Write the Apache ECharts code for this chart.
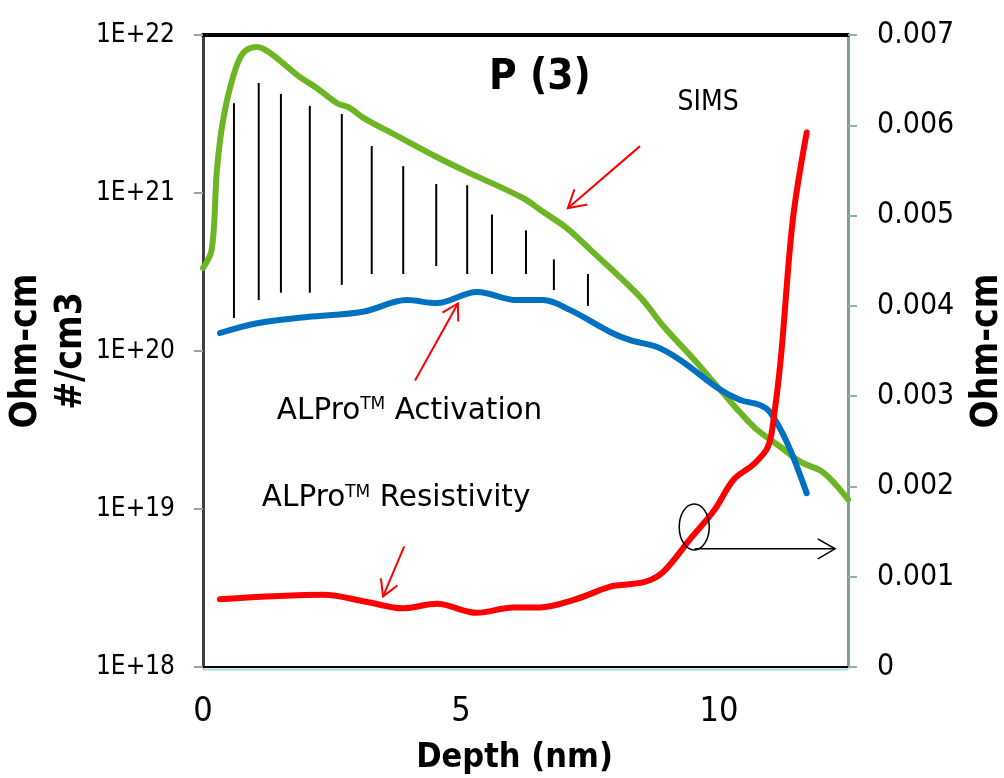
<!DOCTYPE html>
<html><head><meta charset="utf-8">
<script src="https://cdn.jsdelivr.net/npm/echarts@6/dist/echarts.min.js"></script>
<style>html,body{margin:0;padding:0;background:#fff}#c{width:1004px;height:778px}</style>
</head><body><div id="c"></div>
<script>
const FONT = "'DejaVu Sans Condensed','DejaVu Sans',sans-serif";
const FONT_WIDE = "'DejaVu Sans',sans-serif";

// SIMS phosphorus concentration (#/cm3) vs depth (nm)
const simsDepth = [0, 0.17, 0.27, 0.39, 0.58, 0.78, 1.05, 1.3, 1.82, 2.21, 2.6, 2.85, 3.1, 3.76, 4.53, 5.12, 6.2, 6.59, 7.05, 7.5, 8.47, 8.91, 9.52, 10.02, 10.68, 11.2, 11.59, 11.98, 12.25, 12.5];
const simsConc  = [3.35e20, 4.4e20, 1.4e21, 2.9e21, 5.4e21, 7.7e21, 8.4e21, 7.7e21, 5.6e21, 4.6e21, 3.7e21, 3.45e21, 3.0e21, 2.3e21, 1.69e21, 1.36e21, 9.3e20, 7.6e20, 6.0e20, 4.4e20, 2.2e20, 1.45e20, 8.8e19, 5.7e19, 3.3e19, 2.46e19, 1.98e19, 1.74e19, 1.44e19, 1.15e19];

// ALPro activation (#/cm3)
const actDepth = [0.33, 1.05, 2.02, 3.1, 3.95, 4.53, 5.31, 6.09, 6.59, 7.11, 7.89, 8.28, 8.8, 9.24, 10.02, 10.41, 10.79, 10.99, 11.32, 11.7];
const actConc  = [1.30e20, 1.50e20, 1.64e20, 1.77e20, 2.10e20, 2.01e20, 2.36e20, 2.10e20, 2.10e20, 1.82e20, 1.32e20, 1.17e20, 1.06e20, 8.8e19, 5.7e19, 4.9e19, 4.55e19, 4.1e19, 2.63e19, 1.26e19];

// ALPro resistivity (Ohm-cm), right axis
const resDepth = [0.33, 2.33, 3.18, 3.88, 4.53, 5.31, 6.01, 6.53, 7.17, 7.89, 8.16, 8.6, 8.93, 9.46, 9.9, 10.29, 10.68, 10.95, 11.07, 11.2, 11.43, 11.7];
const resValue = [0.00075, 0.0008, 0.00072, 0.00065, 0.0007, 0.0006, 0.00066, 0.00066, 0.00074, 0.00089, 0.00091, 0.00095, 0.00106, 0.00143, 0.00173, 0.00208, 0.00225, 0.00244, 0.0028, 0.00343, 0.00495, 0.00592];

// Hatching (inactive dopant region) vertical lines
const hatchDepth  = [0.60, 1.08, 1.51, 2.07, 2.69, 3.27, 3.88, 4.52, 5.12, 5.60, 6.26, 6.80, 7.46];
const hatchTop    = [3.7e21, 4.97e21, 4.24e21, 3.56e21, 3.16e21, 1.98e21, 1.48e21, 1.14e21, 1.12e21, 7.3e20, 5.8e20, 3.8e20, 3.07e20];
const hatchBottom = [1.62e20, 2.1e20, 2.34e20, 2.34e20, 2.62e20, 3.07e20, 3.07e20, 3.45e20, 3.07e20, 3.07e20, 3.07e20, 2.43e20, 1.93e20];

// Tick labels
const xTickLabels = ['0', '5', '10'];
const rightTickLabels = ['0', '0.001', '0.002', '0.003', '0.004', '0.005', '0.006', '0.007'];

// Annotation anchors in data units (depth, #/cm3)
const titleAt = [6.53, 5.35e21];
const simsLabelAt = [9.79, 3.72e21];
const actLabelAt = [1.43, 4.17e19];
const resLabelAt = [1.14, 1.16e19];
const simsArrow = [[8.47, 1.98e21], [7.07, 8.0e20]];
const actArrow = [[4.11, 6.5e19], [4.94, 2.0e20]];
const resArrow = [[3.90, 5.8e18], [3.49, 2.8e18]];
const ellipseAt = [9.52, 7.7e18];
const axisArrow = [[9.53, 5.6e18], [12.25, 5.6e18]];

const pairs = (xs, ys) => xs.map((x, i) => [x, ys[i]]);

const chart = echarts.init(document.getElementById('c'), null, {renderer: 'canvas'});

const option = {
  animation: false,
  backgroundColor: '#fff',
  grid: {left: 203, right: 156, top: 35, bottom: 111, containLabel: false, outerBoundsMode: 'none'},
  xAxis: [{
    type: 'value', min: 0, max: 12.5, interval: 5, position: 'bottom',
    axisLine: {show: true, onZero: false, lineStyle: {color: '#000', width: 2}},
    axisTick: {show: false}, splitLine: {show: false},
    axisLabel: {fontFamily: FONT, fontSize: 34, color: '#000', margin: 28,
      formatter: v => { const i = xTickLabels.indexOf(String(v)); return i >= 0 ? xTickLabels[i] : ''; }},
    name: 'Depth (nm)', nameLocation: 'middle', nameGap: 74, nameMoveOverlap: false,
    nameTextStyle: {fontFamily: FONT, fontSize: 34, fontWeight: 'bold', color: '#000', padding: [0, 22, 0, 0]}
  }, {
    type: 'value', min: 0, max: 12.5, position: 'top',
    axisLine: {show: true, onZero: false, lineStyle: {color: '#000', width: 4}},
    axisTick: {show: false}, axisLabel: {show: false}, splitLine: {show: false}
  }],
  yAxis: [{
    type: 'log', logBase: 10, min: 1e18, max: 1e22, position: 'left',
    axisLine: {show: true, onZero: false, lineStyle: {color: '#404040', width: 3}},
    axisTick: {show: true, length: 9, lineStyle: {color: '#a0a0a0', width: 2}},
    minorTick: {show: false}, splitLine: {show: false},
    axisLabel: {fontFamily: FONT, fontSize: 26, color: '#000', margin: 28,
      formatter: v => '1E+' + Math.round(Math.log10(v))},
    name: 'Ohm-cm\n#/cm3', nameLocation: 'middle', nameRotate: 90, nameGap: 109, nameMoveOverlap: false,
    nameTextStyle: {fontFamily: FONT, fontSize: 37, fontWeight: 'bold', lineHeight: 45, color: '#000'}
  }, {
    type: 'value', min: 0, max: 0.007, interval: 0.001, position: 'right',
    axisLine: {show: true, onZero: false, lineStyle: {color: '#7f9f9f', width: 3}},
    axisTick: {show: true, length: 9, lineStyle: {color: '#8fb3b3', width: 2}},
    splitLine: {show: false},
    axisLabel: {fontFamily: FONT, fontSize: 30, color: '#000', margin: 29,
      formatter: v => rightTickLabels[Math.round(v * 1000)] || ''},
    name: 'Ohm-cm', nameLocation: 'middle', nameRotate: 90, nameGap: 121, nameMoveOverlap: false,
    nameTextStyle: {fontFamily: FONT, fontSize: 37, fontWeight: 'bold', color: '#000'}
  }],
  series: [{
    name: 'Hatch', type: 'custom', xAxisIndex: 0, yAxisIndex: 0, silent: true,
    data: hatchDepth.map((x, i) => [x, hatchTop[i], hatchBottom[i]]),
    renderItem: (params, api) => {
      const a = api.coord([api.value(0), api.value(1)]);
      const b = api.coord([api.value(0), api.value(2)]);
      return {type: 'line', shape: {x1: a[0], y1: a[1], x2: b[0], y2: b[1]},
        style: {stroke: '#000', lineWidth: 2}};
    },
    z: 1
  }, {
    name: 'SIMS', type: 'line', xAxisIndex: 0, yAxisIndex: 0,
    data: pairs(simsDepth, simsConc), smooth: 0.35, showSymbol: false,
    lineStyle: {color: '#6cb524', width: 6, cap: 'round', join: 'round'}, z: 2
  }, {
    name: 'ALPro Activation', type: 'line', xAxisIndex: 0, yAxisIndex: 0,
    data: pairs(actDepth, actConc), smooth: 0.35, showSymbol: false,
    lineStyle: {color: '#0070c0', width: 6, cap: 'round', join: 'round'}, z: 3
  }, {
    name: 'ALPro Resistivity', type: 'line', xAxisIndex: 0, yAxisIndex: 1,
    data: pairs(resDepth, resValue), smooth: 0.35, showSymbol: false,
    lineStyle: {color: '#ff0000', width: 6, cap: 'round', join: 'round'}, z: 4
  }]
};
chart.setOption(option);

function px(p) { return chart.convertToPixel({xAxisIndex: 0, yAxisIndex: 0}, p); }
function arrow(pts, color, width, len, ang) {
  const a = px(pts[0]), b = px(pts[1]);
  const dx = b[0] - a[0], dy = b[1] - a[1], L = Math.hypot(dx, dy);
  const ux = dx / L, uy = dy / L, t = ang * Math.PI / 180;
  const rot = (s) => [ux * Math.cos(s) - uy * Math.sin(s), ux * Math.sin(s) + uy * Math.cos(s)];
  const r1 = rot(t), r2 = rot(-t);
  return [
    {type: 'line', shape: {x1: a[0], y1: a[1], x2: b[0], y2: b[1]}, style: {stroke: color, lineWidth: width}, z: 10},
    {type: 'polyline', shape: {points: [[b[0] - len * r1[0], b[1] - len * r1[1]], b, [b[0] - len * r2[0], b[1] - len * r2[1]]]},
      style: {stroke: color, lineWidth: width, fill: null}, z: 10}
  ];
}
const rich = {
  a: {fontFamily: FONT_WIDE, fontSize: 29.5, color: '#000', verticalAlign: 'bottom'},
  s: {fontFamily: FONT_WIDE, fontSize: 17, color: '#000', verticalAlign: 'top'}
};
const tP = px(titleAt), sP = px(simsLabelAt), aP = px(actLabelAt), rP = px(resLabelAt), eP = px(ellipseAt);
const bl = px([0, 1e18]), br = px([12.5, 1e18]);
const graphic = [
  {type: 'line', shape: {x1: bl[0], y1: bl[1] + 2.5, x2: br[0], y2: br[1] + 2.5}, style: {stroke: '#a8d8dc', lineWidth: 2}, z: 9},
  {type: 'text', x: tP[0], y: tP[1], z: 10, style: {text: 'P (3)', fontFamily: FONT, fontSize: 42, fontWeight: 'bold', fill: '#000', align: 'center', verticalAlign: 'middle'}},
  {type: 'text', x: sP[0], y: sP[1], z: 10, style: {text: 'SIMS', fontFamily: FONT, fontSize: 28, fill: '#000', align: 'center', verticalAlign: 'middle'}},
  {type: 'text', x: aP[0], y: aP[1], z: 10, style: {text: '{a|ALPro}{s|TM}{a| Activation}', rich: rich, align: 'left', verticalAlign: 'middle'}},
  {type: 'text', x: rP[0], y: rP[1], z: 10, style: {text: '{a|ALPro}{s|TM}{a| Resistivity}', rich: rich, align: 'left', verticalAlign: 'middle'}},
  {type: 'ellipse', shape: {cx: eP[0], cy: eP[1], rx: 15, ry: 23}, style: {stroke: '#000', lineWidth: 1.5, fill: null}, z: 10}
].concat(arrow(simsArrow, '#ff0000', 2, 20, 30))
 .concat(arrow(actArrow, '#ff0000', 2, 18, 30))
 .concat(arrow(resArrow, '#ff0000', 2, 18, 30))
 .concat(arrow(axisArrow, '#000', 1.5, 20, 30));
chart.setOption({graphic: graphic});
</script>
</body></html>
